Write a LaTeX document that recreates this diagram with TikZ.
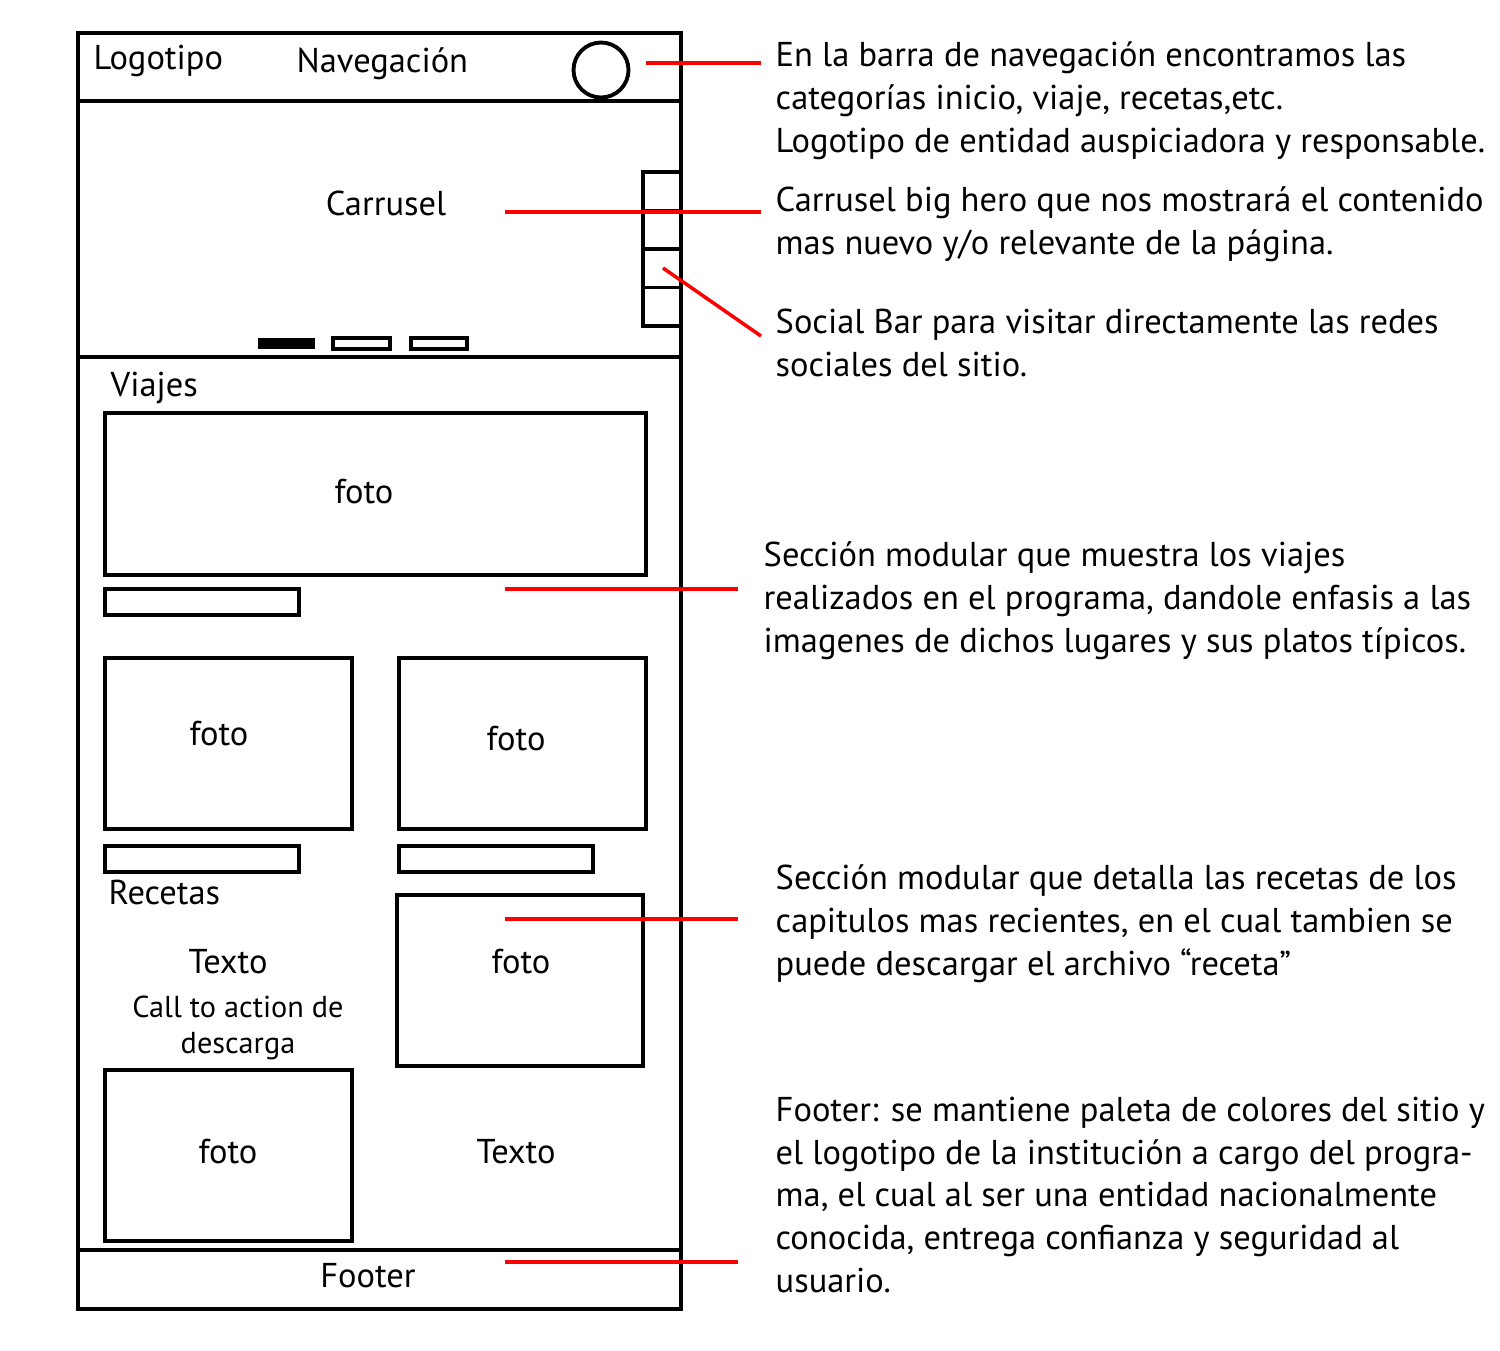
\documentclass[tikz,border=0pt]{standalone}
\usepackage{fontspec}
\setmainfont{PT Sans}
\tikzset{
  wire/.style={draw=black, line width=1.1pt},
  leader/.style={draw=red, line width=1pt},
  lbl/.style={inner sep=0pt, font=\fontsize{9.8}{12.1}\selectfont},
  note/.style={lbl, anchor=base west, align=left},
}
\begin{document}
\begin{tikzpicture}[x=0.01cm,y=-0.01cm]
\useasboundingbox (0,0) rectangle (1500,1350);
% phone frame and its bands
\draw[wire] (78,33) rectangle (681,1309);
\draw[wire] (78,101) -- (681,101);
\draw[wire] (78,357) -- (681,357);
\draw[wire] (78,1250) -- (681,1250);
\draw[wire] (601,70) circle [radius=27.5];
% social bar
\foreach \y in {172,210.5,249,287.5}
  \draw[wire] (643,\y) rectangle (681,\y+38.5);
% carrusel dots
\fill (258,338) rectangle (315,349);
\draw[wire] (333,338) rectangle (390,349);
\draw[wire] (411,338) rectangle (467,349);
% viajes
\draw[wire] (105,413) rectangle (646,575);
\draw[wire] (105,589) rectangle (299,615);
\draw[wire] (105,658) rectangle (352,829);
\draw[wire] (399,658) rectangle (646,829);
\draw[wire] (105,846) rectangle (299,872);
\draw[wire] (399,846) rectangle (593,872);
% recetas
\draw[wire] (397,895) rectangle (643,1066);
\draw[wire] (105,1070) rectangle (352,1241);
%
\node[lbl, anchor=base west] (logo) at (93,69) {Logotipo};
\node[lbl, anchor=base west] (nav) at (296,72) {Navegación};
\node[lbl, anchor=base] (carrusel) at (386,215) {Carrusel};
\node[lbl, anchor=base west] (viajes) at (110,396) {Viajes};
\node[lbl, anchor=base] (foto1) at (364,503) {foto};
\node[lbl, anchor=base] (foto2) at (219,745) {foto};
\node[lbl, anchor=base] (foto3) at (516,750) {foto};
\node[lbl, anchor=base west] (recetas) at (108,904) {Recetas};
\node[lbl, anchor=base] (texto1) at (228,973) {Texto};
\node[lbl, anchor=base] (foto4) at (521,973) {foto};
% base of a two-line node is its last line
\node[lbl, anchor=base, align=center, font=\fontsize{8.6}{10.2}\selectfont] (cta) at (238,1053) {Call to action de\\descarga};
\node[lbl, anchor=base] (foto5) at (228,1163) {foto};
\node[lbl, anchor=base] (texto2) at (516,1163) {Texto};
\node[lbl, anchor=base] (footer) at (368,1287) {Footer};
% leaders
\coordinate (navtip) at (646,63);   \coordinate (navend) at (761,63);
\coordinate (cartip) at (505,212);  \coordinate (carend) at (761,212);
\coordinate (soctip) at (663,268);  \coordinate (socend) at (761,336);
\coordinate (viatip) at (505,589);  \coordinate (viaend) at (738,589);
\coordinate (rectip) at (505,919);  \coordinate (recend) at (738,919);
\coordinate (foottip) at (505,1262); \coordinate (footend) at (738,1262);
\draw[leader] (navtip) -- (navend);
\draw[leader] (cartip) -- (carend);
\draw[leader] (soctip) -- (socend);
\draw[leader] (viatip) -- (viaend);
\draw[leader] (rectip) -- (recend);
\draw[leader] (foottip) -- (footend);
% notes (placed at the baseline of their last line)
\node[note] (navnote) at (775,152) {En la barra de navegación encontramos las\\categorías inicio, viaje, recetas,etc.\\Logotipo de entidad auspiciadora y responsable.};
\node[note] (carnote) at (775,254) {Carrusel big hero que nos mostrará el contenido\\mas nuevo y/o relevante de la página.};
\node[note] (socnote) at (775,376) {Social Bar para visitar directamente las redes\\sociales del sitio.};
\node[note] (vianote) at (763,652) {Sección modular que muestra los viajes\\realizados en el programa, dandole enfasis a las\\imagenes de dichos lugares y sus platos típicos.};
\node[note] (recnote) at (775,975) {Sección modular que detalla las recetas de los\\capitulos mas recientes, en el cual tambien se\\puede descargar el archivo “receta”};
\node[note] (footnote) at (775,1292) {Footer: se mantiene paleta de colores del sitio y\\el logotipo de la institución a cargo del progra-\\ma, el cual al ser una entidad nacionalmente\\conocida, entrega confianza y seguridad al\\usuario.};
\end{tikzpicture}
\end{document}
